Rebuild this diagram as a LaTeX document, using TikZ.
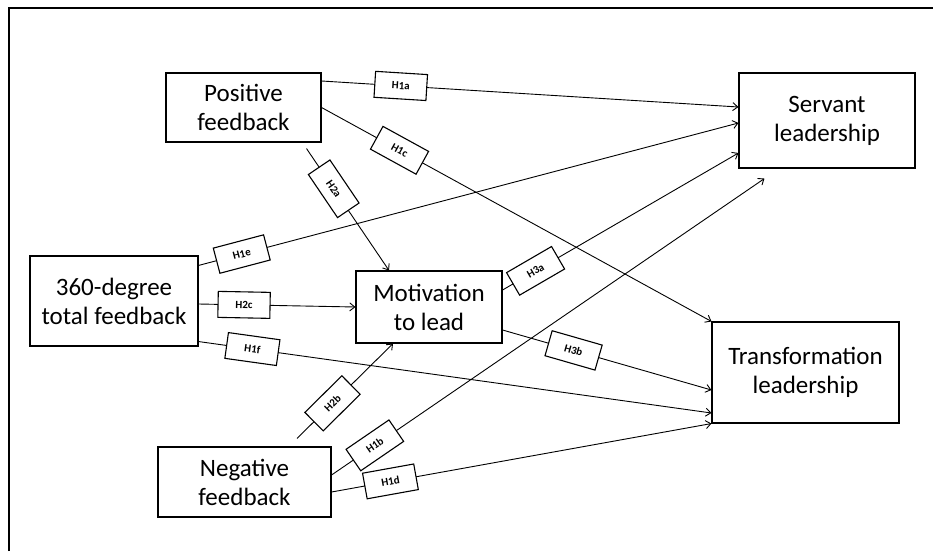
\documentclass[tikz,border=0pt]{standalone}
\usepackage{fontspec}
\setmainfont{Carlito}
\usepackage{tikz}
\usetikzlibrary{calc}
\usetikzlibrary{arrows.meta}

\begin{document}
\begin{tikzpicture}[x=1pt,y=-1pt,
   var/.style={draw=black, line width=1.1pt, align=center, inner sep=0pt,
      font=\fontsize{25}{29}\selectfont},
   hyp/.style={draw=black, line width=1.1pt, fill=white, sloped, inner sep=1pt,
      minimum width=52pt, minimum height=26pt, font=\fontsize{11}{12}\selectfont\bfseries},
   link/.style={line width=0.9pt, -{Straight Barb[length=5pt,width=8pt]}}]

   \useasboundingbox (0,0) rectangle (933,551);
   \draw[line width=2pt] (9,551) -- (9,8) -- (933,8);

   \node[var, minimum width=155, minimum height=69] (pos) at (243.5,107.5) {Positive\\feedback};
   \node[var, minimum width=176, minimum height=95] (serv) at (827,120.5) {Servant\\leadership};
   \node[var, minimum width=168, minimum height=90] (tot) at (114,301) {360-degree\\total feedback};
   \node[var, minimum width=146, minimum height=72] (mot) at (429,307) {Motivation\\to lead};
   \node[var, minimum width=173, minimum height=70] (neg) at (244.5,482) {Negative\\feedback};
   \node[var, minimum width=187, minimum height=101] (trans) at (805.5,372.5) {Transformation\\leadership};
   \coordinate (servb) at ($(serv.south west)+(26,10)$);

   \draw[link] ($(pos.east)+(0,-26.5)$) -- node[hyp, pos=0.19] {H1a} ($(serv.west)+(0,-13.5)$);
   \draw[link] (pos.east) -- node[hyp, pos=0.2] {H1c} (trans.north west);
   \draw[link] ($(pos.south)+(63,6)$) -- node[hyp, pos=0.33] {H2a} ($(mot.north)+(-40,0)$);
   \draw[link] ($(tot.north east)+(0,10)$) -- node[hyp, pos=0.08] {H1e} ($(serv.west)+(0,2.5)$);
   \draw[link] ($(tot.east)+(0,3)$) -- node[hyp, pos=0.29] {H2c} (mot.west);
   \draw[link] ($(tot.south east)+(0,-5)$) -- node[hyp, pos=0.105] {H1f} ($(trans.west)+(0,40.5)$);
   \draw[link] ($(mot.east)+(0,-17)$) -- node[hyp, pos=0.14] {H3a} ($(serv.west)+(0,32.5)$);
   \draw[link] ($(mot.east)+(0,23)$) -- node[hyp, pos=0.34] {H3b} ($(trans.west)+(0,17.5)$);
   \draw[link] ($(neg.north)+(52.5,-8)$) -- node[hyp, pos=0.37] {H2b} ($(mot.south)+(-36,0)$);
   \draw[link] ($(neg.east)+(0,-7)$) -- node[hyp, pos=0.1] {H1b} (servb);
   \draw[link] ($(neg.east)+(0,10)$) -- node[hyp, pos=0.155] {H1d} (trans.south west);

\end{tikzpicture}
\end{document}
